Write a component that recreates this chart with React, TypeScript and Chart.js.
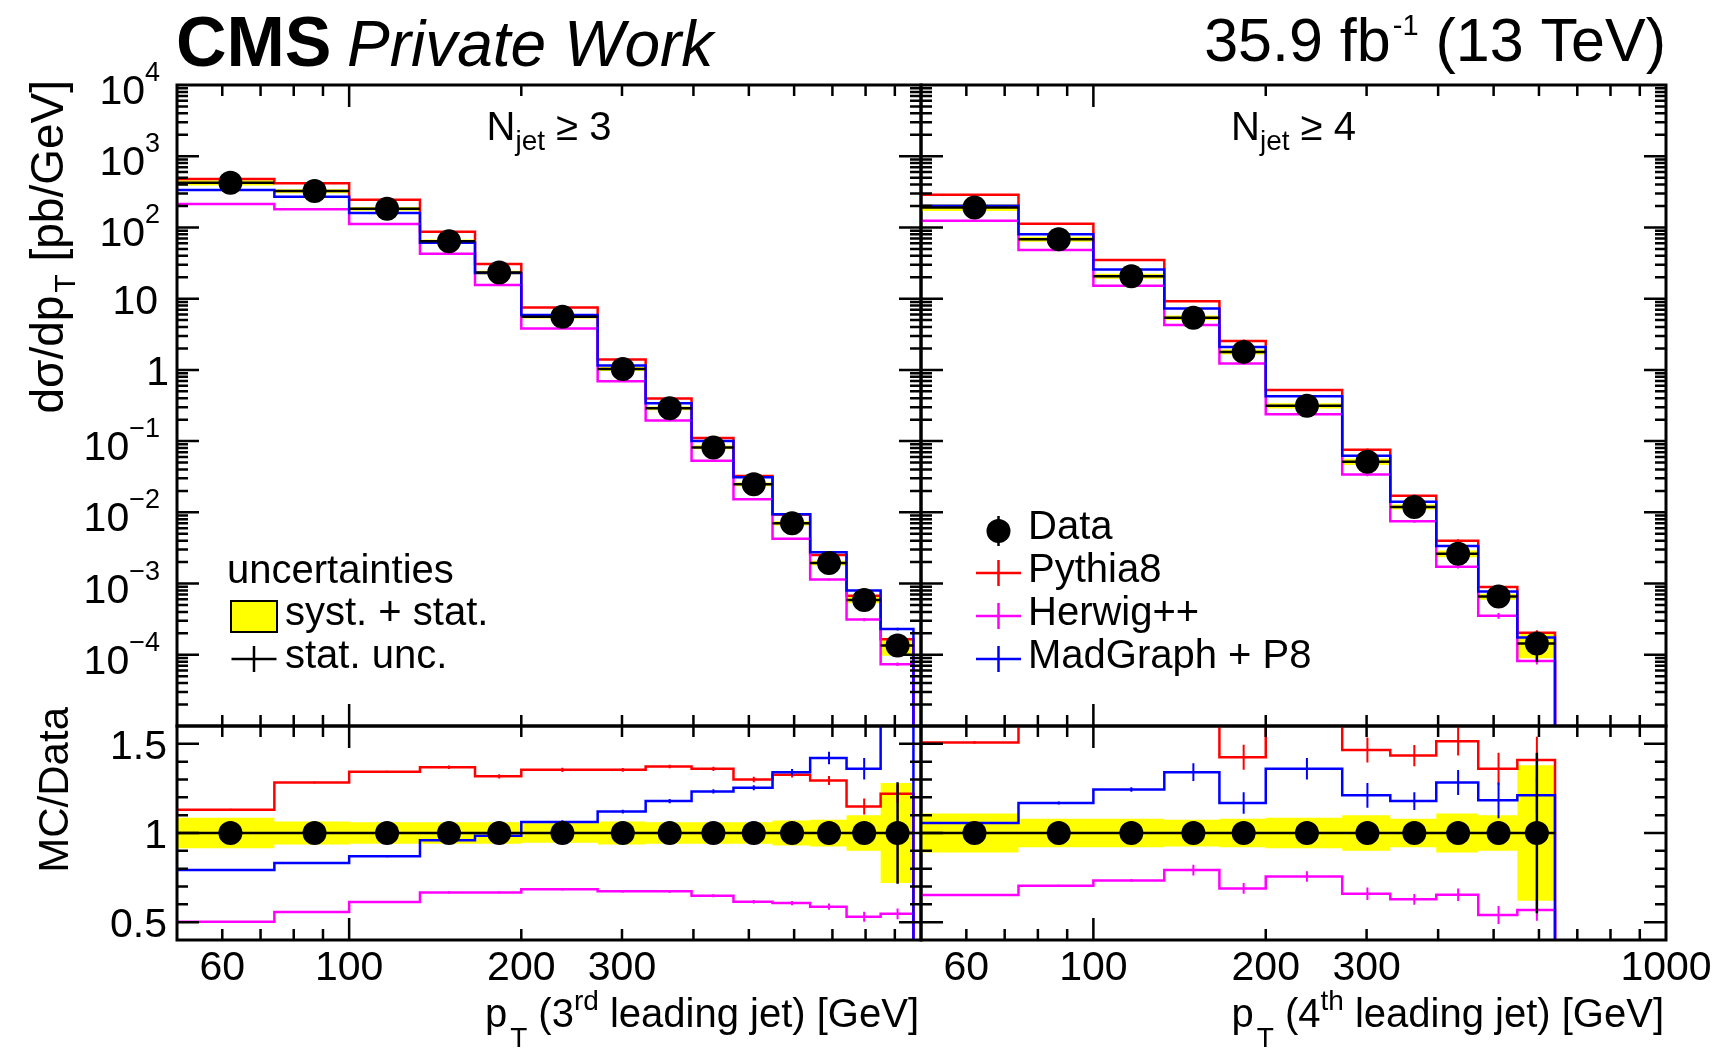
import React, { useEffect, useRef } from "react";
import { Chart, registerables } from "chart.js";

Chart.register(...registerables);

const W = 1724;
const H = 1049;
const FONT = "'Liberation Sans', Arial, Helvetica, sans-serif";

// ---------------- N_jet >= 3 : 3rd leading jet ----------------
const EDGES_3RD = [50, 74, 100, 133, 166, 200, 272, 330, 397, 470, 550, 640, 741, 850, 970];
const DATA_3RD = [424, 324, 183, 63.8, 23.3, 5.57, 1.03, 0.289, 0.0816, 0.0248, 0.00703, 0.00194, 0.000587, 0.000135];
const DATA_3RD_STAT = [0.002, 0.002, 0.003, 0.004, 0.005, 0.006, 0.008, 0.01, 0.012, 0.015, 0.02, 0.03, 0.045, 0.285];
const BAND_3RD = [0.085, 0.065, 0.06, 0.06, 0.06, 0.055, 0.065, 0.06, 0.06, 0.06, 0.07, 0.075, 0.1, 0.28];
const PYTHIA_3RD = [1.131, 1.283, 1.343, 1.369, 1.318, 1.354, 1.354, 1.373, 1.36, 1.3, 1.326, 1.294, 1.149, 1.22];
const PYTHIA_3RD_ERR = [0.005, 0.006, 0.006, 0.01, 0.012, 0.012, 0.01, 0.01, 0.012, 0.015, 0.015, 0.025, 0.045, 0.05];
const HERWIG_3RD = [0.503, 0.557, 0.613, 0.667, 0.667, 0.684, 0.673, 0.673, 0.648, 0.615, 0.607, 0.587, 0.531, 0.547];
const HERWIG_3RD_ERR = [0.004, 0.004, 0.004, 0.006, 0.006, 0.006, 0.006, 0.008, 0.008, 0.01, 0.012, 0.018, 0.028, 0.03];
const MADGRAPH_3RD = [0.792, 0.832, 0.87, 0.959, 0.985, 1.061, 1.12, 1.179, 1.233, 1.254, 1.341, 1.421, 1.36, 1.7];
const MADGRAPH_3RD_ERR = [0.005, 0.005, 0.006, 0.008, 0.01, 0.01, 0.01, 0.012, 0.012, 0.014, 0.018, 0.035, 0.06, 0.08];

// ---------------- N_jet >= 4 : 4th leading jet ----------------
const EDGES_4TH = [50, 74, 100, 133, 166, 200, 272, 330, 397, 470, 550, 640];
const DATA_4TH = [191, 68.5, 20.7, 5.41, 1.79, 0.314, 0.0514, 0.0119, 0.00263, 0.000656, 0.000144];
const DATA_4TH_STAT = [0.005, 0.008, 0.012, 0.02, 0.05, 0.03, 0.05, 0.05, 0.05, 0.065, 0.45];
const BAND_4TH = [0.11, 0.08, 0.08, 0.075, 0.08, 0.085, 0.1, 0.08, 0.11, 0.1, 0.38];
const PYTHIA_4TH = [1.508, 1.65, 1.68, 1.7, 1.425, 1.66, 1.466, 1.434, 1.514, 1.36, 1.41];
const PYTHIA_4TH_ERR = [0.008, 0.02, 0.03, 0.04, 0.07, 0.05, 0.07, 0.06, 0.08, 0.09, 0.13];
const HERWIG_4TH = [0.652, 0.704, 0.734, 0.792, 0.689, 0.756, 0.659, 0.628, 0.654, 0.54, 0.568];
const HERWIG_4TH_ERR = [0.004, 0.006, 0.008, 0.03, 0.03, 0.03, 0.035, 0.03, 0.035, 0.05, 0.06];
const MADGRAPH_4TH = [1.056, 1.168, 1.244, 1.341, 1.168, 1.36, 1.211, 1.179, 1.283, 1.183, 1.211];
const MADGRAPH_4TH_ERR = [0.006, 0.008, 0.012, 0.05, 0.06, 0.06, 0.07, 0.05, 0.07, 0.1, 0.1];

// ---------------- labels ----------------
const MODEL_NAMES = ["Pythia8", "Herwig++", "MadGraph + P8"];
const MODEL_COLORS = ["#ff0000", "#ff00ff", "#0000ff"];
const BAND_COLOR = "#ffff00";
const LEGEND_UNC = ["uncertainties", "syst. + stat.", "stat. unc."];
const X_LABELS_LEFT = [60, 100, 200, 300];
const X_LABELS_RIGHT = [60, 100, 200, 300, 1000];
const LOG_Y_LABEL_EXPONENTS = [4, 3, 2, 1, 0, -1, -2, -3, -4];
const RATIO_Y_LABELS = ["0.5", "1", "1.5"];

// ---------------- geometry ----------------
const PANEL_L = { x0: 177, x1: 921 };
const PANEL_R = { x0: 921, x1: 1666 };
const MAIN_Y = { y0: 85, y1: 726 };
const RATIO_Y = { y0: 726, y1: 940 };

type Part = { t: string; size: number; dy?: number; dx?: number; style?: string };
const fontOf = (p: Part) => `${p.style ? p.style + " " : ""}${p.size}px ${FONT}`;
function richWidth(ctx: CanvasRenderingContext2D, parts: Part[]) {
  let w = 0;
  for (const p of parts) {
    ctx.font = fontOf(p);
    w += (p.dx || 0) + ctx.measureText(p.t).width;
  }
  return w;
}
function drawRich(ctx: CanvasRenderingContext2D, parts: Part[], x: number, y: number, align = "left") {
  const w = richWidth(ctx, parts);
  let cx = align === "left" ? x : align === "right" ? x - w : x - w / 2;
  ctx.textAlign = "left";
  ctx.textBaseline = "alphabetic";
  ctx.fillStyle = "#000";
  for (const p of parts) {
    ctx.font = fontOf(p);
    cx += p.dx || 0;
    ctx.fillText(p.t, cx, y + (p.dy || 0));
    cx += ctx.measureText(p.t).width;
  }
}
function drawRotated(ctx: CanvasRenderingContext2D, parts: Part[], x: number, y: number) {
  ctx.save();
  ctx.translate(x, y);
  ctx.rotate(-Math.PI / 2);
  drawRich(ctx, parts, 0, 0, "right");
  ctx.restore();
}

const centers = (e: number[]) => e.slice(0, -1).map((lo, i) => (lo + e[i + 1]) / 2);
function stepData(edges: number[], vals: number[], floor?: number) {
  const pts = vals.map((v, i) => ({ x: edges[i], y: v }));
  pts.push({ x: edges[edges.length - 1], y: vals[vals.length - 1] });
  if (floor !== undefined) pts.push({ x: edges[edges.length - 1], y: floor });
  return pts;
}

// axis tick positions
const X_TICKS: { v: number; major: boolean }[] = [];
for (const d of [10, 100, 1000]) for (let m = 1; m <= 9; m++) {
  const v = m * d;
  if (v >= 50 && v <= 1000) X_TICKS.push({ v, major: m === 1 });
}
const LOG_Y_TICKS: { v: number; major: boolean }[] = [];
for (let e = -5; e <= 4; e++) for (let m = 1; m <= 9; m++) {
  if (e === 4 && m > 1) break;
  LOG_Y_TICKS.push({ v: m * Math.pow(10, e), major: m === 1 });
}
const RATIO_Y_TICKS: { v: number; major: boolean }[] = [];
for (let k = 4; k <= 16; k++) RATIO_Y_TICKS.push({ v: k / 10, major: k % 5 === 0 });

function drawErr(chart: any, idx: number, when: string) {
  const ds = chart.data.datasets[idx];
  const e = ds && ds.errBars;
  if (!e || e.mode !== when) return;
  const { ctx, chartArea: a, scales } = chart;
  const x = scales.x, y = scales.y;
  ctx.save();
  ctx.beginPath();
  ctx.rect(a.left, a.top, a.right - a.left, a.bottom - a.top);
  ctx.clip();
  ctx.strokeStyle = e.color;
  ctx.lineWidth = e.width;
  ctx.beginPath();
  e.x.forEach((cx: number, i: number) => {
    const px = x.getPixelForValue(cx);
    if (e.lo) {
      const py = y.getPixelForValue(e.y[i]);
      ctx.moveTo(x.getPixelForValue(e.lo[i]), py);
      ctx.lineTo(x.getPixelForValue(e.hi[i]), py);
    }
    ctx.moveTo(px, y.getPixelForValue(e.ylo[i]));
    ctx.lineTo(px, y.getPixelForValue(e.yhi[i]));
  });
  ctx.stroke();
  ctx.restore();
}

const errPlugin = {
  id: "errbars",
  beforeDatasetDraw(chart: any, args: any) { drawErr(chart, args.index, "before"); },
  afterDatasetDraw(chart: any, args: any) { drawErr(chart, args.index, "after"); },
};

function drawFrame(chart: any, ratio: boolean) {
  const { ctx, chartArea: a, scales } = chart;
  const x = scales.x, y = scales.y;
  ctx.save();
  ctx.strokeStyle = "#000";
  ctx.lineWidth = 2.5;
  ctx.beginPath();
  for (const t of X_TICKS) {
    const px = x.getPixelForValue(t.v);
    if (px <= a.left + 1 || px >= a.right - 1) continue;
    const L = t.major ? 22 : 11;
    ctx.moveTo(px, a.top); ctx.lineTo(px, a.top + L);
    ctx.moveTo(px, a.bottom); ctx.lineTo(px, a.bottom - L);
  }
  for (const t of ratio ? RATIO_Y_TICKS : LOG_Y_TICKS) {
    const py = y.getPixelForValue(t.v);
    if (py <= a.top + 1 || py >= a.bottom - 1) continue;
    const L = t.major ? 22 : 11;
    ctx.moveTo(a.left, py); ctx.lineTo(a.left + L, py);
    ctx.moveTo(a.right, py); ctx.lineTo(a.right - L, py);
  }
  ctx.stroke();
  ctx.lineWidth = 3;
  ctx.strokeRect(a.left, a.top, a.right - a.left, a.bottom - a.top);
  ctx.restore();
}

function drawCross(ctx: CanvasRenderingContext2D, cx: number, cy: number, color: string) {
  ctx.strokeStyle = color;
  ctx.lineWidth = 2.5;
  ctx.beginPath();
  ctx.moveTo(cx - 22.5, cy); ctx.lineTo(cx + 22.5, cy);
  ctx.moveTo(cx, cy - 13); ctx.lineTo(cx, cy + 13);
  ctx.stroke();
}

function drawTexts(chart: any, id: string) {
  const { ctx, chartArea: a, scales } = chart;
  const x = scales.x, y = scales.y;
  ctx.save();
  const midX = (a.left + a.right) / 2;
  if (id === "TL") {
    drawRich(ctx, [{ t: "CMS", size: 70, style: "bold" }], 176, 66);
    drawRich(ctx, [{ t: "Private Work", size: 64, style: "italic" }], 347, 66);
    drawRotated(ctx, [{ t: "dσ/dp", size: 46 }, { t: "T", size: 30, dy: 12, dx: 3 }, { t: " [pb/GeV]", size: 46 }], 63, 80);
    drawRich(ctx, [{ t: "N", size: 40 }, { t: "jet", size: 28, dy: 10 }, { t: " ≥ 3", size: 40 }], midX, 140, "center");
    for (const ex of LOG_Y_LABEL_EXPONENTS) {
      const py = y.getPixelForValue(Math.pow(10, ex));
      if (ex === 0) drawRich(ctx, [{ t: "1", size: 41 }], 169, py + 15, "right");
      else if (ex === 1) drawRich(ctx, [{ t: "10", size: 41 }], 158, py + 15, "right");
      else drawRich(ctx, [{ t: "10", size: 41 }, { t: ex < 0 ? "−" + -ex : String(ex), size: 27, dy: -23 }], 160, py + 19, "right");
    }
    // uncertainty legend
    drawRich(ctx, [{ t: LEGEND_UNC[0], size: 40 }], 227, 583);
    ctx.fillStyle = BAND_COLOR;
    ctx.fillRect(231, 601, 46, 31);
    ctx.strokeStyle = "#000";
    ctx.lineWidth = 2;
    ctx.strokeRect(231, 601, 46, 31);
    drawRich(ctx, [{ t: LEGEND_UNC[1], size: 40 }], 285, 625);
    drawCross(ctx, 254, 659, "#000");
    drawRich(ctx, [{ t: LEGEND_UNC[2], size: 40 }], 285, 668);
  } else if (id === "TR") {
    drawRich(ctx, [{ t: "35.9 fb", size: 61 }, { t: "-1", size: 29, dy: -26, dx: 2 }, { t: " (13 TeV)", size: 61 }], 1666, 61, "right");
    drawRich(ctx, [{ t: "N", size: 40 }, { t: "jet", size: 28, dy: 10 }, { t: " ≥ 4", size: 40 }], midX, 140, "center");
    // model legend
    ctx.fillStyle = "#000";
    ctx.beginPath();
    ctx.arc(998.5, 531, 12, 0, Math.PI * 2);
    ctx.fill();
    ctx.strokeStyle = "#000";
    ctx.lineWidth = 2.5;
    ctx.beginPath();
    ctx.moveTo(998.5, 516); ctx.lineTo(998.5, 546);
    ctx.stroke();
    drawRich(ctx, [{ t: "Data", size: 40 }], 1028, 539);
    MODEL_NAMES.forEach((n, i) => {
      const base = 582 + i * 43;
      drawCross(ctx, 998.5, base - 9, MODEL_COLORS[i]);
      drawRich(ctx, [{ t: n, size: 40 }], 1028, base);
    });
  } else if (id === "RL") {
    drawRotated(ctx, [{ t: "MC/Data", size: 42 }], 68, 707);
    for (const l of RATIO_Y_LABELS) {
      const py = y.getPixelForValue(parseFloat(l));
      drawRich(ctx, [{ t: l, size: 41 }], 167, py + 15, "right");
    }
  }
  if (id === "RL" || id === "RR") {
    const labels = id === "RL" ? X_LABELS_LEFT : X_LABELS_RIGHT;
    for (const v of labels) drawRich(ctx, [{ t: String(v), size: 41 }], x.getPixelForValue(v), 980, "center");
    const ord = id === "RL" ? "3" : "4";
    const sup = id === "RL" ? "rd" : "th";
    drawRich(ctx, [
      { t: "p", size: 40 },
      { t: "T", size: 28, dy: 20, dx: 3 },
      { t: " (" + ord, size: 40 },
      { t: sup, size: 28, dy: -17 },
      { t: " leading jet) [GeV]", size: 40 },
    ], a.right - 2, 1027, "right");
  }
  ctx.restore();
}

function buildConfig(id: string) {
  const left = id === "TL" || id === "RL";
  const ratio = id === "RL" || id === "RR";
  const px = left ? PANEL_L : PANEL_R;
  const py = ratio ? RATIO_Y : MAIN_Y;
  const edges = left ? EDGES_3RD : EDGES_4TH;
  const data = left ? DATA_3RD : DATA_4TH;
  const stat = left ? DATA_3RD_STAT : DATA_4TH_STAT;
  const band = left ? BAND_3RD : BAND_4TH;
  const models = left
    ? [[PYTHIA_3RD, PYTHIA_3RD_ERR], [HERWIG_3RD, HERWIG_3RD_ERR], [MADGRAPH_3RD, MADGRAPH_3RD_ERR]]
    : [[PYTHIA_4TH, PYTHIA_4TH_ERR], [HERWIG_4TH, HERWIG_4TH_ERR], [MADGRAPH_4TH, MADGRAPH_4TH_ERR]];
  const c = centers(edges);
  const sc = (i: number, r: number) => (ratio ? r : data[i] * r);
  const dVal = data.map((_, i) => sc(i, 1));
  const datasets: any[] = [];
  datasets.push({
    type: "line",
    label: "Data",
    data: c.map((xv, i) => ({ x: xv, y: dVal[i] })),
    showLine: false,
    pointRadius: 12,
    pointHoverRadius: 12,
    pointBackgroundColor: "#000",
    pointBorderColor: "#000",
    pointBorderWidth: 0,
    order: 0,
    errBars: {
      mode: "before", color: "#000", width: 2.5, x: c,
      lo: edges.slice(0, -1), hi: edges.slice(1), y: dVal,
      ylo: data.map((_, i) => sc(i, 1 - stat[i])),
      yhi: data.map((_, i) => sc(i, 1 + stat[i])),
    },
  });
  models.forEach(([rat, err], k) => {
    const vals = rat.map((r, i) => sc(i, r));
    datasets.push({
      type: "line",
      label: MODEL_NAMES[k],
      data: stepData(edges, vals, ratio ? 0.0 : 1e-9),
      stepped: true,
      borderColor: MODEL_COLORS[k],
      borderWidth: 2.5,
      pointRadius: 0,
      fill: false,
      order: 3 - k,
      errBars: {
        mode: "after", color: MODEL_COLORS[k], width: 2, x: c,
        ylo: rat.map((r, i) => sc(i, Math.max(r - err[i], 1e-6))),
        yhi: rat.map((r, i) => sc(i, r + err[i])),
      },
    });
  });
  datasets.push({
    type: "line",
    label: "band up",
    data: stepData(edges, data.map((_, i) => sc(i, 1 + band[i]))),
    stepped: true,
    borderWidth: 0,
    borderColor: "rgba(0,0,0,0)",
    backgroundColor: BAND_COLOR,
    fill: "+1",
    pointRadius: 0,
    order: 10,
  });
  datasets.push({
    type: "line",
    label: "band down",
    data: stepData(edges, data.map((_, i) => sc(i, 1 - band[i]))),
    stepped: true,
    borderWidth: 0,
    borderColor: "rgba(0,0,0,0)",
    fill: false,
    pointRadius: 0,
    order: 11,
  });

  return {
    type: "line",
    data: { datasets },
    options: {
      responsive: false,
      maintainAspectRatio: false,
      animation: false,
      devicePixelRatio: 1,
      events: [],
      layout: { padding: { left: px.x0, right: W - px.x1, top: py.y0, bottom: H - py.y1 } },
      scales: {
        x: { type: "logarithmic", min: 50, max: 1000, display: false },
        y: ratio
          ? { type: "linear", min: 0.4, max: 1.6, display: false }
          : { type: "logarithmic", min: 1e-5, max: 1e4, display: false },
      },
      plugins: { legend: { display: false }, tooltip: { enabled: false }, title: { display: false } },
    },
    plugins: [
      errPlugin,
      {
        id: "frameTexts",
        afterDraw(chart: any) {
          drawFrame(chart, ratio);
          drawTexts(chart, id);
        },
      },
    ],
  };
}

const PANELS = ["TL", "TR", "RL", "RR"];

export default function App() {
  const r0 = useRef<HTMLCanvasElement>(null);
  const r1 = useRef<HTMLCanvasElement>(null);
  const r2 = useRef<HTMLCanvasElement>(null);
  const r3 = useRef<HTMLCanvasElement>(null);
  const refs = [r0, r1, r2, r3];
  useEffect(() => {
    const charts = PANELS.map((id, i) => new Chart(refs[i].current as HTMLCanvasElement, buildConfig(id) as any));
    return () => charts.forEach((ch) => ch.destroy());
  }, []);
  return (
    <div style={{ position: "absolute", left: 0, top: 0, width: W, height: H, background: "#fff", overflow: "hidden" }}>
      {PANELS.map((id, i) => (
        <canvas
          key={id}
          ref={refs[i]}
          width={W}
          height={H}
          style={{ position: "absolute", left: 0, top: 0, width: W, height: H }}
        />
      ))}
    </div>
  );
}
